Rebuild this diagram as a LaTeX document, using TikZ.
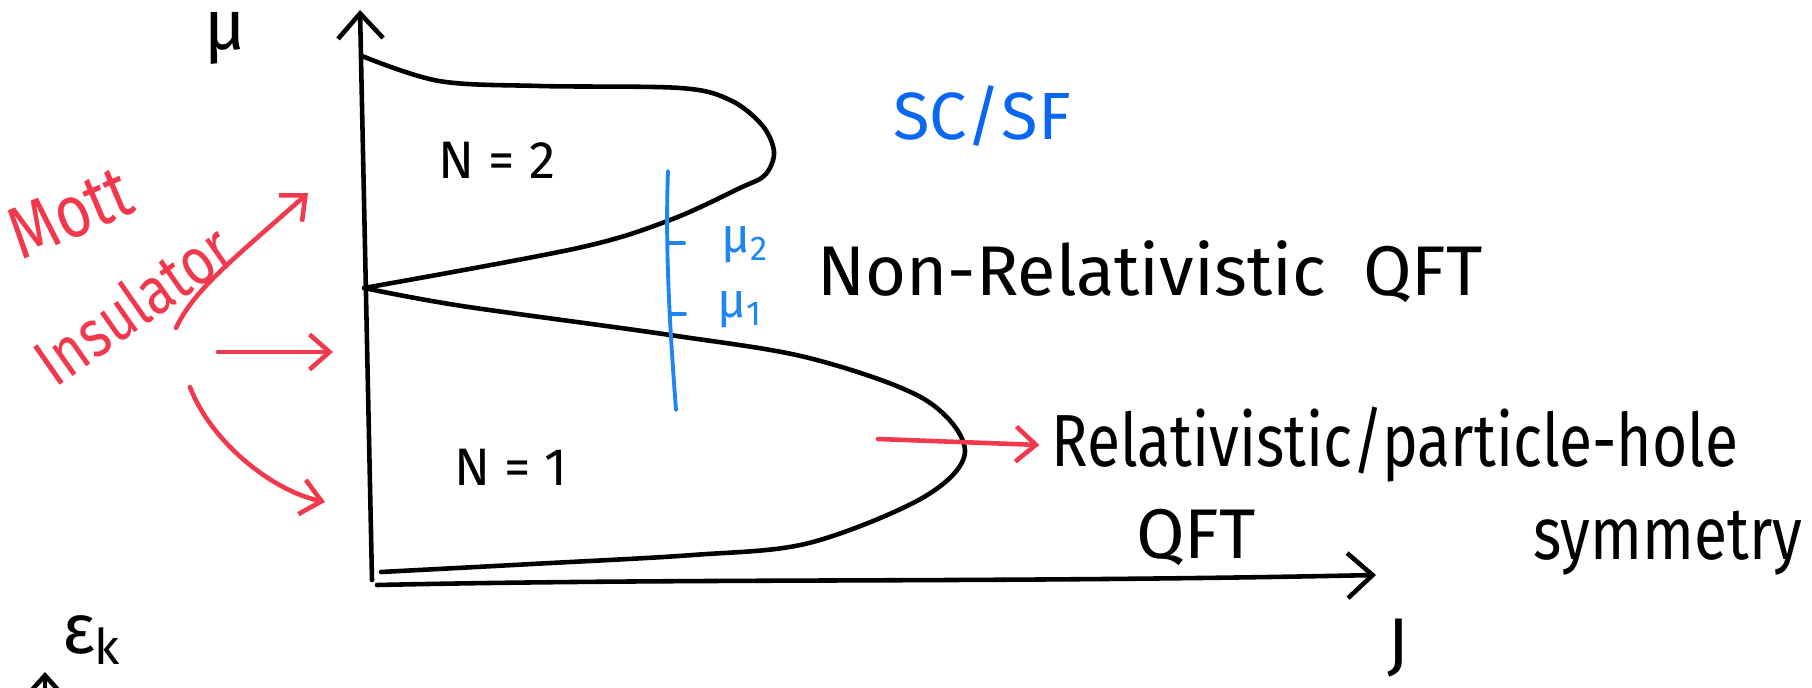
\documentclass[tikz,border=0pt]{standalone}
\usepackage{fontspec}
\setmainfont{Fira Sans}
\newfontfamily\narrowhand[FakeStretch=0.82]{Fira Sans}
\usetikzlibrary{arrows.meta,positioning}
\definecolor{MottRed}{HTML}{F2384C}
\definecolor{FluidBlue}{HTML}{0B66F2}
\definecolor{LineBlue}{HTML}{1E86F2}

\begin{document}
\begin{tikzpicture}[x=0.01cm,y=-0.01cm,
  ink/.style={line width=1.3pt,line cap=round,line join=round},
  redink/.style={ink,draw=MottRed},
  axis/.style={ink,-{Straight Barb[length=2.5mm,width=4.5mm]}},
  redarrow/.style={redink,-{Straight Barb[length=2mm,width=3.5mm]}},
  blueink/.style={ink,draw=LineBlue,line width=1.1pt},
  bigtext/.style={font=\fontsize{20}{22}\selectfont},
  narrowtext/.style={font=\narrowhand\fontsize{21}{23}\selectfont},
  lobetext/.style={font=\fontsize{15}{17}\selectfont},
  bluetext/.style={text=FluidBlue,font=\fontsize{19}{21}\selectfont}
]
\useasboundingbox (0,0) rectangle (1812,688);

% axes
\coordinate (origin) at (372,580);
\coordinate (ytip) at (360,10);
\coordinate (xstart) at (377,585);
\coordinate (xtip) at (1376,575);
\draw[axis] (origin) -- (ytip);
\draw[axis] (xstart) .. controls (700,578) and (1000,583) .. (xtip);
\node (mu) at (225,38) {\fontsize{20}{22}\selectfont μ};
\node (J) at (1398,648) {\fontsize{20}{22}\selectfont J};
\node (epsk) at (92,640) {\fontsize{20}{22}\selectfont ε\textsubscript{k}};
\coordinate (epsbase) at (45,720);
\coordinate (epstip) at (45,672);
\draw[axis] (epsbase) -- (epstip);

% Mott lobes
\coordinate (cusp) at (364,288);
\draw[ink] plot[smooth,tension=0.55] coordinates {(362,56) (439,81) (540,86) (680,88) (730,100) (762,125) (774,152) (765,175) (740,188) (670,220) (578,248) (364,288)};
\draw[ink] plot[smooth,tension=0.55] coordinates {(364,288) (462,306) (670,335) (809,358) (924,399) (965,451) (924,497) (809,543) (693,555) (532,564) (381,572)};
\node[lobetext] (n2) at (497,160) {N = 2};
\node[lobetext] (n1) at (511,467) {N = 1};

% superfluid cut
\node[bluetext] (scsf) at (982,116) {SC/SF};
\coordinate (cuttop) at (668,171);
\coordinate (cutbot) at (676,410);
\draw[blueink] (cuttop) .. controls (665,250) and (670,330) .. (cutbot);
\coordinate (mu2tick) at (684,243);
\coordinate (mu1tick) at (685,314);
\draw[blueink] (669,243) -- (mu2tick);
\draw[blueink] (670,314) -- (mu1tick);
\node[text=LineBlue,font=\fontsize{14}{16}\selectfont] (mu2) at (745,245) {μ\textsubscript{2}};
\node[text=LineBlue,font=\fontsize{14}{16}\selectfont] (mu1) at (740,310) {μ\textsubscript{1}};

% labels on the right
\node[bigtext] (nonrel) at (1150,272) {Non-Relativistic\ \ QFT};
\node[narrowtext] (rel) at (1395,445) {Relativistic/particle-hole};
\node[bigtext] (relqft) at (1196,537) {QFT};
\node[narrowtext] (sym) at (1668,543) {symmetry};
\coordinate (tipin) at (878,439);
\draw[redarrow] (tipin) -- (rel.west);

% Mott insulator
\node[narrowtext,text=MottRed,rotate=23,inner sep=0pt] (mott) at (70,213) {Mott};
\node[narrowtext,text=MottRed,rotate=35,inner sep=0pt,font=\narrowhand\fontsize{19}{21}\selectfont] (insul) at (133,304) {Insulator};
\coordinate (mia) at (176,328);
\coordinate (miaend) at (308,193);
\coordinate (mib) at (218,352);
\coordinate (mibend) at (333,352);
\coordinate (mic) at (190,387);
\coordinate (micend) at (325,502);
\draw[redarrow] (mia) .. controls (194,290) and (230,262) .. (miaend);
\draw[redarrow] (mib) -- (mibend);
\draw[redarrow] (mic) .. controls (210,440) and (270,490) .. (micend);
\end{tikzpicture}
\end{document}
